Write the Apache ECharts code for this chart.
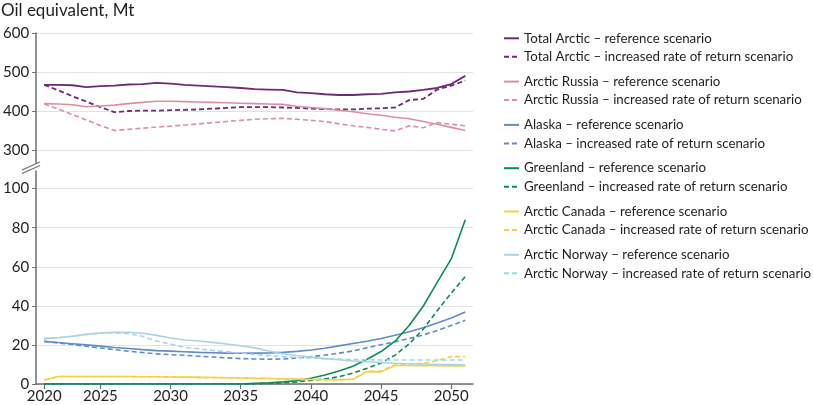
<!DOCTYPE html>
<html><head><meta charset="utf-8">
<script src="https://cdn.jsdelivr.net/npm/echarts@6/dist/echarts.min.js"></script>
<style>html,body{margin:0;padding:0;background:#fff}#c{width:813px;height:405px}</style>
</head><body><div id="c"></div>
<script>
// ---- data (years 2021..2051 as placed on the reference x axis) ----
const years = [2021,2022,2023,2024,2025,2026,2027,2028,2029,2030,2031,2032,2033,2034,2035,2036,2037,2038,2039,2040,2041,2042,2043,2044,2045,2046,2047,2048,2049,2050,2051];
const xTickValues = [2021,2025,2030,2035,2040,2045,2050];
const xTickLabels = ['2020','2025','2030','2035','2040','2045','2050'];
const topTicks = [300,400,500,600];
const bottomTicks = [0,20,40,60,80,100];

const totalRef = [467,467,466,461,464,465,468,469,472,470,467,465,463,461,459,456,455,454,448,446,443,441,441,443,444,448,450,454,459,469,490];
const totalInc = [467,453,438,424,410,397,400,401,401,402,403,404,406,408,410,410,410,409,408,406,405,404,404,406,407,409,428,431,455,465,478];
const russiaRef = [419,418,416,411,413,415,419,422,425,425,424,423,422,421,420,419,418,417,412,409,406,402,398,393,389,384,380,373,366,358,350];
const russiaInc = [418,405,391,377,363,350,353,356,359,361,364,367,370,373,376,379,380,381,379,376,373,367,362,358,353,349,362,357,370,366,362];
const alaskaRef = [21.8,21.2,20.6,20.0,19.4,18.7,18.2,17.6,17.1,16.8,16.5,16.2,16.0,15.8,15.7,15.8,15.9,16.2,16.7,17.4,18.3,19.5,20.7,21.9,23.3,24.9,26.7,28.8,31.2,33.8,36.8];
const alaskaInc = [21.8,21.0,20.2,19.3,18.4,17.6,16.8,16.1,15.4,15.0,14.7,14.2,13.8,13.4,13.0,12.8,12.7,12.8,13.3,14.0,14.8,15.8,16.9,18.6,20.1,21.6,23.3,25.1,27.4,29.9,32.6];
const greenlandRef = [0,0,0,0,0,0,0,0,0,0,0,0,0,0,0,0.3,0.6,1.1,1.7,2.9,4.6,6.7,9.1,12.7,16.6,21.9,29.9,39.8,52.0,64.0,84.0];
const greenlandInc = [0,0,0,0,0,0,0,0,0,0,0,0,0,0,0,0.1,0.3,0.6,1.1,1.8,2.6,3.7,5.6,8.0,10.8,14.8,20.5,28.0,37.5,46.5,55.0];
const canadaRef = [2.0,3.8,3.8,3.8,3.8,3.8,3.8,3.7,3.7,3.6,3.5,3.4,3.3,3.2,3.1,2.9,2.8,2.6,2.5,2.3,2.2,2.2,2.4,6.2,6.2,9.5,9.5,9.4,9.4,9.3,9.3];
const canadaInc = [2.0,3.8,3.8,3.8,3.8,3.8,3.8,3.7,3.7,3.6,3.5,3.4,3.3,3.2,3.1,2.9,2.8,2.6,2.5,2.3,2.2,2.2,2.4,6.6,6.6,10.0,10.2,10.5,12.0,14.0,14.0];
const norwayRef = [23.2,23.7,24.4,25.4,26.1,26.4,26.5,26.0,24.9,23.5,22.5,22.0,21.3,20.5,19.6,18.5,16.9,15.5,14.6,13.8,13.0,12.4,11.8,11.4,11.0,10.6,10.4,10.2,10.0,9.9,9.8];
const norwayInc = [23.2,23.7,24.4,25.4,26.1,26.2,25.8,24.4,22.0,20.4,18.8,18.0,17.2,16.5,15.8,15.1,14.5,14.0,13.6,13.2,12.9,12.7,12.5,12.4,12.3,12.3,12.3,12.3,12.3,12.3,12.3];

const FONT = 'Lato';
const TXT = '#231f20';
const AXC = '#6d6e71';

function pairs(vals){ return years.map((y,i)=>[y, vals[i]]); }
function mk(name, vals, color, dashed, panel, width){
  return {
    name, type:'line', data:pairs(vals), xAxisIndex:panel, yAxisIndex:panel,
    symbol:'none', showSymbol:false, silent:true,
    lineStyle:{color, width: width||1.6, type: dashed ? [5,3] : 'solid'},
    itemStyle:{color}
  };
}
const C = {total:'#6e2a77', russia:'#dd8fa0', alaska:'#5f8dc8', green:'#0e8c55', canada:'#f6d04d', norway:'#a9d3e3'};
const series = [
  mk('Total Arctic – reference scenario', totalRef, C.total, false, 0, 1.8),
  mk('Total Arctic – increased rate of return scenario', totalInc, C.total, true, 0, 1.8),
  mk('Arctic Russia – reference scenario', russiaRef, C.russia, false, 0),
  mk('Arctic Russia – increased rate of return scenario', russiaInc, C.russia, true, 0),
  mk('Alaska – reference scenario', alaskaRef, C.alaska, false, 1),
  mk('Alaska – increased rate of return scenario', alaskaInc, C.alaska, true, 1),
  mk('Greenland – reference scenario', greenlandRef, C.green, false, 1),
  mk('Greenland – increased rate of return scenario', greenlandInc, C.green, true, 1),
  mk('Arctic Canada – reference scenario', canadaRef, C.canada, false, 1),
  mk('Arctic Canada – increased rate of return scenario', canadaInc, C.canada, true, 1),
  mk('Arctic Norway – reference scenario', norwayRef, C.norway, false, 1),
  mk('Arctic Norway – increased rate of return scenario', norwayInc, C.norway, true, 1)
];
// legend: six groups of two
const legends = [];
for (let g=0; g<6; g++){
  legends.push({
    orient:'vertical', left:503, top: 31.3 + g*43.3, padding:0,
    itemWidth:15, itemHeight:14, itemGap:4.5,
    itemStyle:{opacity:0},
    data:[series[2*g].name, series[2*g+1].name],
    selectedMode:false,
    textStyle:{fontFamily:FONT, fontSize:13.3, color:TXT, lineHeight:14}
  });
}
const xCommon = {type:'value', min:2020.42, max:2051.55, splitLine:{show:false}};
const option = {
  animation:false,
  textStyle:{fontFamily:FONT},
  title:{text:'Oil equivalent, Mt', left:1, top:2, padding:0,
    textStyle:{fontFamily:FONT, fontSize:17, fontWeight:'normal', color:TXT}},
  legend: legends,
  grid:[
    {left:31, top:33, width:442, height:130},
    {left:31, top:171, width:442, height:213}
  ],
  xAxis:[
    Object.assign({gridIndex:0, show:false}, xCommon),
    Object.assign({gridIndex:1,
      axisLine:{show:true, lineStyle:{color:AXC, width:1.5}},
      axisTick:{show:true, customValues:xTickValues, length:5, lineStyle:{color:AXC, width:1.2}},
      axisLabel:{customValues:xTickValues, margin:5, fontSize:15, color:TXT, fontFamily:FONT,
        formatter:(v)=>{const i=xTickValues.indexOf(v); return i>=0?xTickLabels[i]:'';}}
    }, xCommon)
  ],
  yAxis:[
    {gridIndex:0, type:'value', min:266.67, max:600,
      axisLine:{show:true, lineStyle:{color:AXC, width:1.5}},
      axisTick:{show:true, customValues:topTicks, length:4, lineStyle:{color:AXC}},
      axisLabel:{customValues:topTicks, margin:7, fontSize:15, color:TXT, fontFamily:FONT},
      splitLine:{show:true, lineStyle:{color:'#e3e3e3', width:1}}},
    {gridIndex:1, type:'value', min:0, max:109,
      axisLine:{show:true, lineStyle:{color:AXC, width:1.5}},
      axisTick:{show:true, customValues:bottomTicks, length:4, lineStyle:{color:AXC}},
      axisLabel:{customValues:bottomTicks, margin:7, fontSize:15, color:TXT, fontFamily:FONT},
      splitLine:{show:true, lineStyle:{color:'#e3e3e3', width:1}}}
  ],
  graphic:[
    {type:'line', shape:{x1:22, y1:170, x2:40, y2:162}, style:{stroke:AXC, lineWidth:1.2}},
    {type:'line', shape:{x1:22, y1:173.5, x2:40, y2:165.5}, style:{stroke:AXC, lineWidth:1.2}}
  ],
  series
};
const chart = echarts.init(document.getElementById('c'), null, {renderer:'canvas'});
chart.setOption(option);
</script>
</body></html>
